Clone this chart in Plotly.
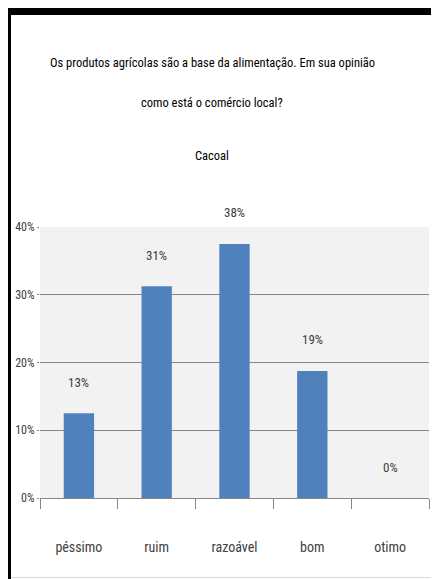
import plotly.graph_objects as go

categories = ["péssimo", "ruim", "razoável", "bom", "otimo"]
values = [12.5, 31.25, 37.5, 18.75, 0]
value_labels = ["13%", "31%", "38%", "19%", "0%"]
y_tickvals = [0, 10, 20, 30, 40]
y_ticktext = ["0%", "10%", "20%", "30%", "40%"]
title_lines = [
    "Os produtos agrícolas são a base da alimentação. Em sua opinião",
    "como está o comércio local?",
    "Cacoal",
]

FONT = "Roboto Condensed, DejaVu Sans Condensed, sans-serif"
OFF = 8  # page body margin
W, H = 439 - OFF, 579 - OFF
L, R, T, B = 40 - OFF, 429 - OFF, 227 - OFF, 498 - OFF
PW, PH = R - L, B - T


def px(x):
    return (x - OFF - L) / PW


def py(y):
    return (B - (y - OFF)) / PH


fig = go.Figure(
    go.Bar(
        x=categories,
        y=values,
        marker=dict(color="#4F81BD", line=dict(width=0)),
        width=0.39,
        hoverinfo="skip",
    )
)

for c, v, t in zip(categories, values, value_labels):
    fig.add_annotation(
        x=c, y=v, text=t, showarrow=False, yshift=31, yanchor="middle",
        font=dict(family=FONT, size=13, color="#404040"),
    )

title_y = [62, 102, 155]
for t, yy in zip(title_lines, title_y):
    fig.add_annotation(
        xref="paper", yref="paper", x=px(212), y=py(yy), text=t,
        showarrow=False, xanchor="center", yanchor="middle",
        font=dict(family=FONT, size=12.5, color="#000000"),
    )

# frame: black band top and left, light line bottom
fig.add_shape(type="rect", xref="paper", yref="paper",
              x0=px(8), x1=px(440), y0=py(15), y1=py(8),
              fillcolor="black", line_width=0, layer="above")
fig.add_shape(type="rect", xref="paper", yref="paper",
              x0=px(8), x1=px(11), y0=py(580), y1=py(8),
              fillcolor="black", line_width=0, layer="above")
fig.add_shape(type="line", xref="paper", yref="paper",
              x0=px(11), x1=px(440), y0=py(577.5), y1=py(577.5),
              line=dict(color="#D9D9D9", width=1), layer="above")

fig.update_layout(
    width=W, height=H,
    margin=dict(l=L, r=W - R, t=T, b=H - B, pad=0, autoexpand=False),
    paper_bgcolor="white",
    plot_bgcolor="#F2F2F2",
    showlegend=False,
    bargap=0.61,
    font=dict(family=FONT, color="#404040"),
    xaxis=dict(
        type="category", automargin=False,
        showline=True, linecolor="#868686", linewidth=1,
        ticks="outside", tickson="boundaries", ticklen=10, tickcolor="#868686",
        ticklabelstandoff=36,
        tickfont=dict(family=FONT, size=14, color="#404040"),
        showgrid=False, fixedrange=True,
    ),
    yaxis=dict(
        range=[0, 40], automargin=False,
        tickvals=y_tickvals, ticktext=y_ticktext,
        showgrid=True, gridcolor="#868686", gridwidth=1,
        zeroline=False, showline=False,
        ticks="outside", ticklen=2, tickcolor="#868686",
        tickfont=dict(family=FONT, size=12, color="#404040"),
        fixedrange=True,
    ),
)

fig.write_html("out.html")
